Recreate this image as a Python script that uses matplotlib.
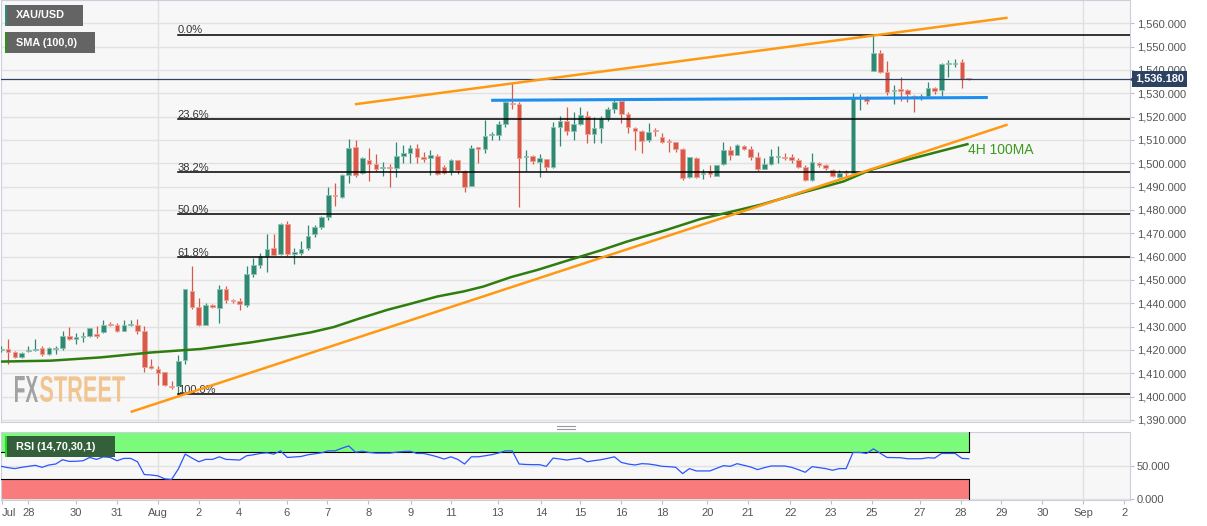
import numpy as np
import matplotlib.pyplot as plt
from matplotlib.patches import Rectangle, PathPatch
from matplotlib.lines import Line2D
from matplotlib.textpath import TextPath
from matplotlib.font_manager import FontProperties
from matplotlib.transforms import Affine2D, blended_transform_factory
from matplotlib.ticker import FuncFormatter

plt.rcParams['font.family'] = ['Liberation Sans', 'DejaVu Sans']

# XAU/USD 4H candles (one row per bar)
opens = [1419.8, 1420.4, 1419.2, 1417.0, 1419.4, 1419.9, 1420.8, 1418.4, 1420.4, 1420.8,
         1426.1, 1424.8, 1425.5, 1425.8, 1427.0, 1427.5, 1431.1, 1430.6, 1428.2, 1430.5,
         1430.8, 1427.9, 1413.0, 1412.0, 1410.4, 1404.7, 1404.4, 1415.5, 1445.1, 1438.6,
         1430.8, 1439.2, 1437.9, 1446.2, 1441.5, 1440.8, 1439.4, 1452.5, 1456.5, 1460.1,
         1463.6, 1461.2, 1474.0, 1461.3, 1461.5, 1463.6, 1469.8, 1472.9, 1476.9, 1486.5,
         1485.5, 1495.0, 1506.9, 1495.8, 1501.5, 1499.7, 1498.0, 1498.6, 1497.9, 1503.3,
         1504.3, 1506.5, 1502.5, 1502.2, 1503.2, 1498.3, 1496.9, 1501.2, 1496.9, 1490.3,
         1506.8, 1506.2, 1512.0, 1512.2, 1516.7, 1526.0, 1525.4, 1502.6, 1503.2, 1500.7,
         1501.9, 1498.3, 1515.4, 1518.2, 1514.0, 1516.9, 1520.4, 1512.6, 1515.0, 1519.3,
         1523.3, 1526.7, 1521.2, 1515.0, 1513.9, 1510.0, 1514.3, 1511.4, 1509.7, 1509.0,
         1506.0, 1494.0, 1502.2, 1495.2, 1496.7, 1494.7, 1499.6, 1505.5, 1503.6, 1507.2,
         1506.2, 1502.9, 1497.6, 1499.8, 1502.6, 1502.9, 1502.9, 1501.2, 1498.6, 1492.9,
         1500.3, 1499.3, 1497.2, 1494.3, 1496.3, 1496.0, 1528.0, 1527.9, 1539.7, 1547.4,
         1539.3, 1531.1, 1531.7, 1531.4, 1528.9, 1528.4, 1529.0, 1532.2, 1531.4, 1542.6,
         1542.7, 1543.3, 1536.4]
highs = [1421.5, 1424.6, 1419.7, 1419.1, 1421.8, 1424.6, 1421.5, 1421.2, 1421.8, 1427.9,
         1429.8, 1427.2, 1427.5, 1429.6, 1430.1, 1432.9, 1431.8, 1431.5, 1432.9, 1432.9,
         1433.2, 1430.4, 1416.1, 1413.0, 1410.7, 1406.8, 1418.0, 1446.1, 1456.1, 1442.2,
         1440.1, 1439.6, 1447.9, 1447.2, 1441.8, 1442.2, 1456.1, 1459.3, 1461.5, 1469.8,
         1469.8, 1474.6, 1475.1, 1463.6, 1466.9, 1473.6, 1473.6, 1477.5, 1490.0, 1491.5,
         1495.4, 1510.3, 1510.0, 1502.5, 1506.4, 1504.0, 1500.7, 1499.7, 1509.3, 1507.9,
         1507.9, 1508.3, 1505.0, 1505.5, 1504.0, 1499.3, 1501.7, 1501.5, 1497.2, 1507.9,
         1506.9, 1518.6, 1513.6, 1518.3, 1526.9, 1534.3, 1526.4, 1505.5, 1503.4, 1504.0,
         1502.0, 1517.9, 1520.3, 1524.0, 1522.2, 1524.0, 1522.6, 1520.0, 1520.3, 1524.0,
         1527.4, 1527.4, 1522.2, 1515.4, 1514.3, 1517.4, 1515.0, 1512.9, 1510.3, 1509.3,
         1506.5, 1502.6, 1502.6, 1497.5, 1499.3, 1499.4, 1509.3, 1507.5, 1508.2, 1507.9,
         1507.2, 1505.0, 1502.2, 1506.0, 1507.2, 1504.6, 1504.0, 1502.2, 1499.3, 1504.3,
         1500.7, 1499.7, 1497.5, 1497.2, 1497.2, 1530.0, 1529.7, 1528.9, 1555.2, 1548.6,
         1544.0, 1533.6, 1537.1, 1531.7, 1529.3, 1529.7, 1535.0, 1532.9, 1542.9, 1544.3,
         1544.6, 1544.6, 1536.5]
lows = [1419.0, 1414.1, 1416.7, 1416.7, 1419.0, 1419.4, 1417.2, 1418.0, 1418.4, 1419.8,
        1424.1, 1422.7, 1423.2, 1425.5, 1425.1, 1427.2, 1430.4, 1427.5, 1428.2, 1430.1,
        1427.0, 1410.4, 1411.8, 1404.8, 1404.4, 1403.2, 1400.9, 1414.1, 1437.5, 1430.1,
        1430.8, 1437.9, 1431.5, 1440.1, 1440.1, 1437.2, 1438.6, 1451.2, 1455.1, 1453.2,
        1460.3, 1460.8, 1460.3, 1456.9, 1460.8, 1462.9, 1468.6, 1471.8, 1475.5, 1481.8,
        1485.2, 1491.7, 1494.0, 1495.5, 1492.2, 1496.5, 1494.7, 1490.0, 1494.3, 1500.0,
        1500.0, 1500.3, 1500.7, 1495.0, 1495.0, 1495.5, 1495.0, 1495.5, 1487.9, 1490.3,
        1500.0, 1504.6, 1510.0, 1510.0, 1515.5, 1523.2, 1481.2, 1496.9, 1499.7, 1494.3,
        1496.5, 1497.9, 1507.5, 1512.2, 1510.0, 1516.4, 1508.6, 1508.9, 1508.9, 1518.3,
        1521.4, 1517.2, 1513.2, 1505.7, 1504.3, 1509.3, 1511.7, 1508.9, 1505.0, 1505.0,
        1492.9, 1493.6, 1493.6, 1493.2, 1494.0, 1494.6, 1499.3, 1501.5, 1503.4, 1505.7,
        1501.5, 1496.5, 1497.5, 1499.3, 1500.0, 1501.2, 1500.3, 1497.9, 1492.6, 1492.6,
        1498.3, 1497.2, 1494.3, 1493.6, 1494.3, 1495.5, 1522.9, 1525.4, 1539.7, 1538.6,
        1529.3, 1525.4, 1526.9, 1526.4, 1522.1, 1527.2, 1528.6, 1529.6, 1528.9, 1537.1,
        1541.1, 1532.1, 1535.9]
closes = [1420.5, 1419.0, 1417.0, 1418.6, 1420.1, 1420.4, 1418.4, 1420.8, 1420.8, 1426.1,
          1424.7, 1425.4, 1426.1, 1429.6, 1426.0, 1430.8, 1430.5, 1428.2, 1430.6, 1431.0,
          1428.2, 1412.7, 1412.4, 1410.1, 1404.8, 1404.2, 1415.4, 1446.1, 1438.4, 1430.8,
          1439.3, 1438.6, 1446.2, 1441.2, 1441.1, 1439.8, 1452.5, 1456.2, 1460.1, 1463.3,
          1460.8, 1474.0, 1461.2, 1461.7, 1463.3, 1469.0, 1472.9, 1476.9, 1486.5, 1485.8,
          1495.0, 1506.5, 1495.0, 1502.2, 1499.7, 1497.5, 1498.6, 1498.0, 1503.3, 1504.6,
          1506.5, 1502.6, 1501.9, 1503.6, 1495.5, 1496.0, 1501.2, 1497.2, 1490.0, 1506.5,
          1506.2, 1511.7, 1512.5, 1516.7, 1526.4, 1525.4, 1502.2, 1503.0, 1501.0, 1502.2,
          1498.3, 1515.4, 1518.2, 1513.9, 1516.9, 1520.7, 1512.6, 1515.0, 1519.3, 1523.3,
          1526.4, 1521.2, 1515.4, 1513.9, 1509.7, 1513.6, 1513.8, 1509.3, 1509.2, 1506.2,
          1493.9, 1502.5, 1494.0, 1495.8, 1495.3, 1499.3, 1505.5, 1503.6, 1507.9, 1506.2,
          1502.9, 1497.5, 1499.8, 1503.3, 1503.2, 1502.3, 1501.5, 1498.6, 1492.9, 1500.5,
          1499.3, 1497.9, 1494.7, 1496.0, 1495.8, 1527.9, 1528.6, 1526.9, 1547.4, 1539.3,
          1530.4, 1531.6, 1531.1, 1529.6, 1528.3, 1529.0, 1532.2, 1531.1, 1542.6, 1543.1,
          1543.1, 1536.0, 1536.18]

# RSI(14), one value per bar
rsi = [49, 47, 45.6, 47.5, 49, 50.5, 47.5, 51, 52.5, 58.9,
       56.4, 56.6, 57.4, 62.3, 59.4, 63.3, 62.3, 57.4, 60.9, 60.9,
       55.9, 36.7, 36.0, 34.7, 30.2, 29.3, 45.1, 67.3, 61.4, 55.9,
       59.4, 59.4, 63.3, 59.4, 59.0, 58.4, 64.8, 66.3, 68.3, 69.3,
       67.3, 72.2, 62.3, 63.0, 63.8, 66.3, 67.8, 69.3, 72.2, 72.2,
       76.2, 79.6, 70.2, 71.7, 69.8, 68.8, 68.8, 68.8, 70.2, 71.2,
       71.7, 68.3, 68.3, 66.0, 63.3, 59.9, 63.3, 59.4, 52.5, 63.3,
       63.3, 64.8, 66.5, 69, 72.2, 72.2, 52.5, 51.8, 51.5, 51.5,
       49, 61.4, 60, 58.4, 60, 61.4, 55.9, 57.5, 58.9, 61,
       63.3, 54.9, 52.5, 51, 53, 52.5, 51, 49, 48.5, 47.5,
       38.1, 45.6, 42.1, 42.1, 42.1, 46, 50, 49, 53, 50.5,
       48, 44.1, 47, 49.5, 49.5, 49.5, 47.5, 44, 40.1, 48.5,
       47, 45.6, 43.1, 45.6, 45.6, 69.8, 69.8, 68.3, 75.2, 68.8,
       62.3, 62.1, 61.9, 60.4, 60.4, 60.4, 61.9, 61.4, 68.3, 68.3,
       68.3, 60.9, 60.4]

# 100-period SMA, sampled at bar positions
sma_bar = [0, 7.3, 14.6, 22.0, 29.3, 36.6, 41.5, 45.4, 48.8, 52.3, 56.7, 60.1, 64.0, 67.9,
           70.8, 74.8, 78.7, 83.1, 87.9, 91.9, 97.7, 102.6, 111.4, 117.3, 123.6, 127.6,
           131.9, 141.8]
sma_val = [1415.0, 1415.4, 1416.8, 1418.9, 1420.4, 1423.2, 1425.5, 1427.5, 1429.8, 1433.2,
           1437.2, 1439.8, 1442.9, 1445.1, 1447.2, 1451.2, 1454.3, 1458.3, 1462.6, 1466.5,
           1471.5, 1476.1, 1482.2, 1487.2, 1492.2, 1497.2, 1500.7, 1508.2]

# drawn trend lines (bar, price) end points
upper_bar, upper_val = [51.9, 147.7], [1525.3, 1562.4]
lower_bar, lower_val = [19.0, 147.7], [1393.4, 1516.6]
resist_bar, resist_val = [71.9, 144.8], [1527.0, 1528.2]

fib_ratios = [0.0, 0.236, 0.382, 0.5, 0.618, 1.0]

tick_bar = [0.1, 3.97, 10.97, 16.93, 22.95, 28.96, 34.91, 41.9, 47.88, 53.88, 60.1, 66.0,
            72.85, 79.2, 85.0, 91.0, 97.0, 103.6, 109.6, 115.8, 121.8, 127.8, 134.8,
            140.8, 146.8, 152.8, 158.8, 164.8]
tick_lab = ['Jul', '28', '30', '31', 'Aug', '2', '4', '6', '7', '8', '9', '11', '13', '14',
            '15', '16', '18', '20', '21', '22', '23', '25', '27', '28', '29', '30', 'Sep', '2']

W, H = 1207, 526
fig = plt.figure(figsize=(W / 100, H / 100), dpi=100, facecolor='white')
ax = fig.add_axes([1 / W, 1 - 422 / H, 1129 / W, 422 / H])
ax2 = fig.add_axes([1 / W, 1 - 500 / H, 1129 / W, 68 / H], sharex=ax)

o, h, l, c = map(np.array, (opens, highs, lows, closes))
n = len(c)
x = np.arange(n)
up = c >= o
green, red = '#2f8871', '#d8584a'
col = np.where(up, green, red)
edge = np.where(up, '#8cc2b1', '#eea496')

ax.vlines(x, l, h, colors=col, lw=0.9, zorder=3)
ax.bar(x, np.maximum(np.abs(c - o), 0.5), 0.68, bottom=np.minimum(o, c),
       color=col, edgecolor=edge, lw=0.6, zorder=4)

# fibonacci retracement from swing low to swing high
lo_i = int(np.argmin(l))
lo, hi = l.min(), h.max()
for r in fib_ratios:
    lev = hi - r * (hi - lo)
    ax.plot([lo_i - 0.1, 170], [lev, lev], color='black', lw=1.1, zorder=5)
    ax.text(lo_i - 0.1, lev + 0.6, f'{r * 100:.1f}%', fontsize=8, color='#333333',
            va='baseline', ha='left', zorder=6)

ax.plot(sma_bar, sma_val, color='#2f7d0f', lw=1.8, zorder=6)
ax.plot(upper_bar, upper_val, color='#ff9912', lw=1.8, zorder=6, solid_capstyle='butt')
ax.plot(lower_bar, lower_val, color='#ff9912', lw=1.8, zorder=6, solid_capstyle='butt')
ax.plot(resist_bar, resist_val, color='#1e8fef', lw=2.2, zorder=6, solid_capstyle='butt')
ax.text(sma_bar[-1] + 0.1, sma_val[-1] - 2.3, '4H 100MA', color='#3d9a1e', fontsize=10,
        va='center', ha='left', zorder=7)

# last price line and tag
last = c[-1]
ax.axhline(last, color='#2d4263', lw=0.9, zorder=5)
bt = blended_transform_factory(ax.transAxes, ax.transData)
ax.text(1.0045, last, f'{last:,.3f}', transform=bt, ha='left', va='center', color='white',
        fontsize=7.9, weight='bold', clip_on=False, zorder=10,
        bbox=dict(boxstyle='square,pad=0.3', fc='#2d4263', ec='none'))
ax.plot([1.0025], [last], marker='<', ms=5, color='#2d4263', transform=bt, clip_on=False,
        zorder=10)

# RSI panel
ax2.plot(x, rsi, color='#2b55ff', lw=0.9, zorder=4)
xl = -0.03
ax2.fill_between([xl, n - 1], 70, 100, color='#7cfa7c', lw=0, zorder=2)
ax2.fill_between([xl, n - 1], 0, 30, color='#fa7b7b', lw=0, zorder=2)
for yy in (70, 30):
    ax2.plot([xl, n - 1], [yy, yy], color='black', lw=0.8, zorder=3)
ax2.plot([n - 1, n - 1], [70, 100], color='black', lw=0.8, zorder=3)
ax2.plot([n - 1, n - 1], [0, 30], color='black', lw=0.8, zorder=3)

fmt = FuncFormatter(lambda v, p: f'{v:,.3f}')
for a in (ax, ax2):
    a.set_facecolor('#f7f7f7')
    a.yaxis.tick_right()
    a.yaxis.set_major_formatter(fmt)
    a.tick_params(axis='y', length=3, width=0.8, color='#b8bfcd', pad=2, labelsize=8,
                  labelcolor='#555555')
    a.grid(axis='y', color='#e2e2e2', lw=1, zorder=0)
    a.set_axisbelow(True)
    for s in a.spines.values():
        s.set_color('#c9cfdc')
    for tb, tl in zip(tick_bar, tick_lab):
        if tl in ('Aug', 'Sep'):
            a.axvline(tb, color='#e0e0e0', lw=1, zorder=0)

ax.set_yticks(np.arange(1390, 1561, 10))
ax.set_ylim(1389.1, 1570.0)
ax.set_xlim(xl, 165.66)
ax.tick_params(axis='x', bottom=False, labelbottom=False)
ax2.set_yticks([0, 50])
ax2.set_ylim(-1.5, 100.5)
ax2.set_xticks(tick_bar)
ax2.set_xticklabels(tick_lab)
ax2.tick_params(axis='x', length=3, width=0.8, color='#b8bfcd', pad=3, labelsize=8,
                labelcolor='#555555')
ax2.get_xticklabels()[0].set_ha('left')


def px_box(x0, y0, w, hgt, color):
    fig.add_artist(Rectangle((x0 / W, 1 - (y0 + hgt) / H), w / W, hgt / H,
                             transform=fig.transFigure, color=color, lw=0))


px_box(5, 5, 78, 21, '#646464')
px_box(5, 5, 2, 21, '#2e8b7a')
fig.text(16 / W, 1 - 15.5 / H, 'XAU/USD', color='white', weight='bold', fontsize=7.8,
         va='center')
px_box(5, 32, 90, 21, '#646464')
px_box(5, 32, 2, 21, '#2f8f12')
fig.text(16 / W, 1 - 42.5 / H, 'SMA (100,0)', color='white', weight='bold', fontsize=7.8,
         va='center')
px_box(5, 436, 110, 21, '#33603a')
px_box(5, 436, 2, 21, '#1fe01f')
fig.text(16 / W, 1 - 446.5 / H, 'RSI (14,70,30,1)', color='white', weight='bold',
         fontsize=7.8, va='center')

# panel splitter handle
for yy in (425.5, 428.5):
    fig.add_artist(Line2D([557 / W, 575 / W], [1 - yy / H] * 2, transform=fig.transFigure,
                          color='#9a9a9a', lw=0.8))

# FXSTREET watermark, squeezed to the logo's narrow shape
fp = FontProperties(family='Liberation Sans', weight='bold')
xc = 15
for word, colr, wd in (('FX', '#a2a2a2', 23), ('STREET', '#f2c48f', 85)):
    tp = TextPath((0, 0), word, size=50, prop=fp)
    ext = tp.get_extents()
    tr = (Affine2D().translate(-ext.x0, -ext.y0)
          .scale(wd / ext.width / 100, 26 / ext.height / 100)
          .translate(xc / 100, (H - 402) / 100) + fig.dpi_scale_trans)
    fig.add_artist(PathPatch(tp, transform=tr, fc=colr, ec='none'))
    xc += wd + 2

fig.savefig('out.png', dpi=100, facecolor='white')
